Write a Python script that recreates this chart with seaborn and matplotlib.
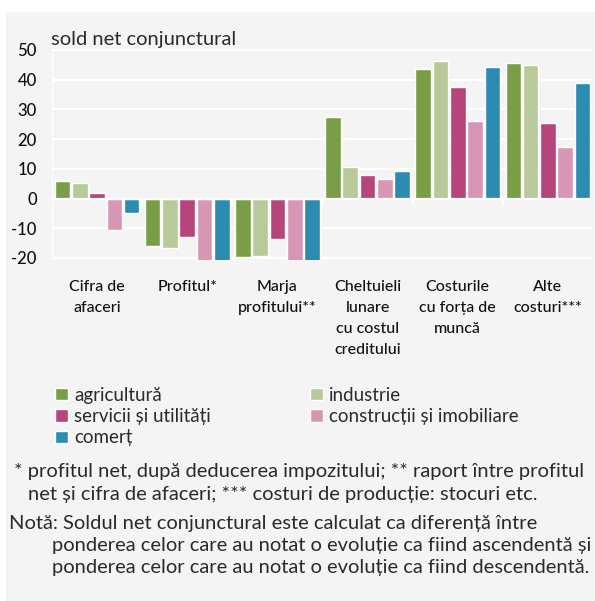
import numpy as np
import pandas as pd
import matplotlib
matplotlib.use("Agg")
import matplotlib.pyplot as plt
import seaborn as sns
from matplotlib.patches import Patch, Rectangle

# date
categorii = ["Cifra de\nafaceri", "Profitul*", "Marja\nprofitului**",
             "Cheltuieli\nlunare\ncu costul\ncreditului",
             "Costurile\ncu forța de\nmuncă", "Alte\ncosturi***"]
sectoare = ["agricultură", "industrie", "servicii și utilități",
            "construcții și imobiliare", "comerț"]
agricultura = [6, -16, -19.8, 27.3, 43.5, 45.5]
industrie = [5.1, -16.5, -19.3, 10.6, 46.2, 44.8]
servicii = [1.8, -13, -13.7, 7.8, 37.4, 25.3]
constructii = [-10.5, -21, -21, 6.4, 26, 17.2]
comert = [-5, -21, -21, 9.1, 44.2, 38.8]
culori = ["#7a9e48", "#b8c99a", "#b5457a", "#d797b4", "#2b8bb0"]

df = pd.DataFrame({
    "categorie": categorii * 5,
    "sector": np.repeat(sectoare, 6),
    "sold": agricultura + industrie + servicii + constructii + comert,
})

fundal = "#f4f4f4"
sns.set_theme(style="white")
plt.rcParams["font.family"] = ["Lato", "DejaVu Sans"]

W, H = 595, 601
fig = plt.figure(figsize=(W / 100, H / 100), dpi=100, facecolor="white")
fig.patches.append(Rectangle((6 / W, 0), 1, 1 - 12 / H, transform=fig.transFigure,
                             facecolor=fundal, edgecolor="none", zorder=-10))

ax = fig.add_axes([52 / W, 1 - 259.7 / H, 541 / W, 210.6 / H])
ax.set_facecolor(fundal)

sns.barplot(data=df, x="categorie", y="sold", hue="sector", palette=culori,
            width=0.96, gap=0.1, ax=ax, legend=False, saturation=1)

ax.set_ylim(-20.6, 50.3)
ax.set_xlim(-0.5, 5.5)
for y in range(-20, 51, 10):
    ax.axhline(y, color="white", lw=1.6, zorder=0)
ax.axhline(0, color="white", lw=1.6, zorder=3)
ax.vlines(np.arange(6) - 0.5, 0, -2.3, color="white", lw=1.6, zorder=3)
ax.vlines(-0.5, -20.6, 50.3, color="white", lw=1.6, zorder=3)
for s in ax.spines.values():
    s.set_visible(False)
ax.tick_params(axis="both", length=0)
ax.set_xlabel("")
ax.set_ylabel("")

ax.set_yticks(range(-20, 51, 10))
ax.set_yticklabels([str(v) for v in range(-20, 51, 10)], fontsize=12,
                   color="#111111", fontweight="medium")
ax.yaxis.set_tick_params(pad=11)

ax.set_xticks(range(6))
ax.set_xticklabels(categorii, fontsize=11.5, color="#111111",
                   linespacing=1.63, va="top", fontweight="medium")
ax.xaxis.set_tick_params(pad=14.5)

fig.text(51 / W, 1 - 45 / H, "sold net conjunctural", fontsize=14.5,
         color="#2a2a2a", va="baseline")

# legenda pe randuri: matplotlib umple pe coloane
ordine = [0, 2, 4, 1, 3]
handles = [Patch(facecolor=culori[i], label=sectoare[i]) for i in ordine]
fig.legend(handles=handles, loc="upper left", bbox_to_anchor=(55 / W, 1 - 387 / H),
           ncol=2, frameon=False, handlelength=0.69,
           handleheight=0.62, handletextpad=0.32, columnspacing=5.3,
           labelspacing=0.22, borderpad=0, borderaxespad=0,
           prop={"size": 13.5}, labelcolor="#2a2a2a")

note_kw = dict(fontsize=14.5, color="#2a2a2a", va="baseline")
fig.text(14 / W, 1 - 477 / H, "* profitul net, după deducerea impozitului; ** raport între profitul", **note_kw)
fig.text(28 / W, 1 - 500 / H, "net și cifra de afaceri; *** costuri de producție: stocuri etc.", **note_kw)
fig.text(9 / W, 1 - 529 / H, "Notă: Soldul net conjunctural este calculat ca diferență între", **note_kw)
fig.text(52 / W, 1 - 551 / H, "ponderea celor care au notat o evoluție ca fiind ascendentă și", **note_kw)
fig.text(52 / W, 1 - 573 / H, "ponderea celor care au notat o evoluție ca fiind descendentă.", **note_kw)

fig.savefig("out.png", dpi=100, facecolor="white")
